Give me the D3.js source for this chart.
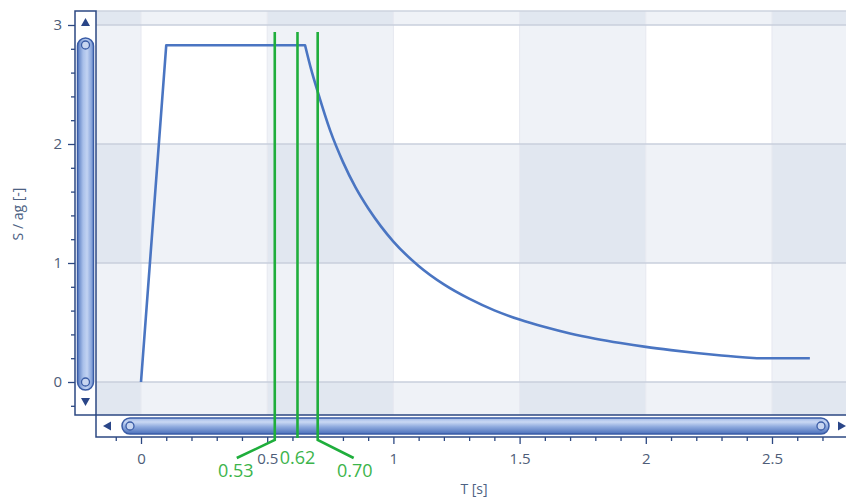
<!DOCTYPE html>
<html>
<head>
<meta charset="utf-8">
<script src="https://cdn.jsdelivr.net/npm/d3@7/dist/d3.min.js"></script>
<style>
  html, body { margin: 0; padding: 0; background: #ffffff; }
  svg { display: block; font-family: "Open Sans", "Noto Sans", sans-serif; }
</style>
</head>
<body>
<svg id="chart" width="846" height="497"></svg>
<script>
// Elastic response spectrum S/ag against period T
const periods  = [0, 0.10, 0.65, 0.675, 0.70, 0.75, 0.80, 0.85, 0.90, 0.95, 1.00, 1.10, 1.20, 1.30, 1.40, 1.50, 1.60, 1.70, 1.80, 1.90, 2.00, 2.10, 2.20, 2.30, 2.44, 2.65];
const spectrum = [0, 2.83, 2.83, 2.62, 2.44, 2.11, 1.85, 1.635, 1.46, 1.31, 1.18, 0.975, 0.82, 0.70, 0.602, 0.525, 0.462, 0.408, 0.364, 0.327, 0.295, 0.268, 0.244, 0.223, 0.20, 0.20];

// Marked periods
const markerPeriods = [0.53, 0.62, 0.70];
const markerLabels  = ["0.53", "0.62", "0.70"];

// Axis ticks
const xTickValues = [0, 0.5, 1, 1.5, 2, 2.5];
const xTickLabels = ["0", "0.5", "1", "1.5", "2", "2.5"];
const yTickValues = [0, 1, 2, 3];
const yTickLabels = ["0", "1", "2", "3"];

const svg = d3.select("#chart");

const plot = { left: 96, right: 846, top: 11, bottom: 415 };

const x = d3.scaleLinear().domain([-0.1783, 2.7932]).range([plot.left, plot.right]);
const y = d3.scaleLinear().domain([-0.2773, 3.1176]).range([plot.bottom, plot.top]);

const axisColor = "#2c4882";
const textColor = "#4e5d78";

// ---- checkered background bands ----
const defs = svg.append("defs");
defs.append("clipPath").attr("id", "plotClip")
  .append("rect")
  .attr("x", plot.left).attr("y", plot.top)
  .attr("width", plot.right - plot.left).attr("height", plot.bottom - plot.top);

const shades = ["#ffffff", "#eff2f7", "#e1e7f0"];
const bg = svg.append("g").attr("clip-path", "url(#plotClip)");
const colStarts = d3.range(-0.5, 3.0, 0.5);
const rowStarts = d3.range(-1, 4, 1);
rowStarts.forEach(r => {
  colStarts.forEach(c => {
    const ci = Math.round(c / 0.5);
    const level = (Math.abs(ci) % 2) + (Math.abs(r) % 2);
    bg.append("rect")
      .attr("x", x(c)).attr("y", y(r + 1))
      .attr("width", x(c + 0.5) - x(c))
      .attr("height", y(r) - y(r + 1))
      .attr("fill", shades[level]);
  });
});

// faint column separators
colStarts.forEach(c => {
  bg.append("line")
    .attr("x1", x(c)).attr("x2", x(c))
    .attr("y1", plot.top).attr("y2", plot.bottom)
    .attr("stroke", "#e6e8f0").attr("stroke-width", 1);
});

// horizontal grid lines
bg.selectAll("line.grid").data(yTickValues).enter().append("line")
  .attr("class", "grid")
  .attr("x1", plot.left).attr("x2", plot.right)
  .attr("y1", d => y(d)).attr("y2", d => y(d))
  .attr("stroke", "#c9cfdd").attr("stroke-width", 1.5);

// plot top border
svg.append("line")
  .attr("x1", plot.left).attr("x2", plot.right)
  .attr("y1", plot.top).attr("y2", plot.top)
  .attr("stroke", "#cdd3df").attr("stroke-width", 1.5);

// ---- spectrum line ----
// straight branches (rise, plateau, lower bound) and a smooth descending branch
const pts = periods.map((t, i) => [t, spectrum[i]]);
const iCorner = periods.indexOf(0.65);
const iFloor = periods.indexOf(2.44);
const straight = d3.line().x(d => x(d[0])).y(d => y(d[1]));
const smooth = d3.line().x(d => x(d[0])).y(d => y(d[1])).curve(d3.curveMonotoneX);
const spectrumPath = straight(pts.slice(0, iCorner + 1))
  + smooth(pts.slice(iCorner, iFloor + 1)).replace(/^M[^C]*/, "L" + x(pts[iCorner][0]) + "," + y(pts[iCorner][1]))
  + straight(pts.slice(iFloor)).replace(/^M/, "L");
svg.append("path")
  .attr("d", spectrumPath)
  .attr("fill", "none")
  .attr("stroke", "#4a75c2")
  .attr("stroke-width", 2.6)
  .attr("stroke-linejoin", "round");

// ---- vertical scrollbar (left) ----
const vsb = { x0: 75, x1: 96 };
const thumbGradV = defs.append("linearGradient").attr("id", "thumbV")
  .attr("x1", "0").attr("x2", "1").attr("y1", "0").attr("y2", "0");
thumbGradV.append("stop").attr("offset", "0").attr("stop-color", "#5579bf");
thumbGradV.append("stop").attr("offset", "0.35").attr("stop-color", "#a9c0ea");
thumbGradV.append("stop").attr("offset", "0.6").attr("stop-color", "#c2d3f2");
thumbGradV.append("stop").attr("offset", "1").attr("stop-color", "#6e90d0");

const thumbGradH = defs.append("linearGradient").attr("id", "thumbH")
  .attr("x1", "0").attr("x2", "0").attr("y1", "0").attr("y2", "1");
thumbGradH.append("stop").attr("offset", "0").attr("stop-color", "#9fb8e6");
thumbGradH.append("stop").attr("offset", "0.25").attr("stop-color", "#c9d8f4");
thumbGradH.append("stop").attr("offset", "0.55").attr("stop-color", "#8eaade");
thumbGradH.append("stop").attr("offset", "1").attr("stop-color", "#4a6fba");

svg.append("rect")
  .attr("x", vsb.x0).attr("y", plot.top)
  .attr("width", vsb.x1 - vsb.x0).attr("height", plot.bottom - plot.top)
  .attr("fill", "#ffffff").attr("stroke", axisColor).attr("stroke-width", 1.5);

// arrows
svg.append("path")
  .attr("d", d3.line()([[85.5, 18], [81, 26], [90, 26]]) + "Z")
  .attr("fill", "#2a4688");
svg.append("path")
  .attr("d", d3.line()([[81, 398], [90, 398], [85.5, 406]]) + "Z")
  .attr("fill", "#2a4688");

// thumb
svg.append("rect")
  .attr("x", 77.5).attr("y", 38).attr("width", 16).attr("height", 352)
  .attr("rx", 8).attr("ry", 8)
  .attr("fill", "url(#thumbV)").attr("stroke", "#3a5ca6").attr("stroke-width", 1.5);
[45, 382].forEach(cy => {
  svg.append("circle").attr("cx", 85.5).attr("cy", cy).attr("r", 4)
    .attr("fill", "#c8d6f1").attr("stroke", "#3a5ca6").attr("stroke-width", 1.3);
});

// ---- horizontal scrollbar (bottom) ----
const hsb = { y0: 415, y1: 437 };
svg.append("rect")
  .attr("x", plot.left).attr("y", hsb.y0)
  .attr("width", plot.right - plot.left + 5).attr("height", hsb.y1 - hsb.y0)
  .attr("fill", "#ffffff").attr("stroke", axisColor).attr("stroke-width", 1.5);
svg.append("path")
  .attr("d", d3.line()([[103, 426], [111, 421.5], [111, 430.5]]) + "Z")
  .attr("fill", "#2a4688");
svg.append("path")
  .attr("d", d3.line()([[838, 421.5], [846, 426], [838, 430.5]]) + "Z")
  .attr("fill", "#2a4688");
svg.append("rect")
  .attr("x", 122).attr("y", 418).attr("width", 707).attr("height", 16)
  .attr("rx", 8).attr("ry", 8)
  .attr("fill", "url(#thumbH)").attr("stroke", "#3a5ca6").attr("stroke-width", 1.5);
[130, 821].forEach(cx => {
  svg.append("circle").attr("cx", cx).attr("cy", 426).attr("r", 4)
    .attr("fill", "#c8d6f1").attr("stroke", "#3a5ca6").attr("stroke-width", 1.3);
});

// ---- axes ----
// y axis: ticks on the left edge of the vertical scrollbar
const yAxisG = svg.append("g").attr("transform", `translate(${vsb.x0},0)`);
const yMinor = d3.range(-0.2, 3.01, 0.2).filter(v => Math.abs(v - Math.round(v)) > 1e-6);
yAxisG.call(d3.axisLeft(y).tickValues(yMinor).tickSize(4).tickFormat(""))
  .call(g => g.select(".domain").remove())
  .call(g => g.selectAll("line").attr("stroke", axisColor).attr("stroke-width", 1.3));
const yMajorG = svg.append("g").attr("transform", `translate(${vsb.x0},0)`);
yMajorG.call(d3.axisLeft(y).tickValues(yTickValues).tickSize(7).tickPadding(6)
    .tickFormat((d, i) => yTickLabels[i]))
  .call(g => g.select(".domain").remove())
  .call(g => g.selectAll("line").attr("stroke", axisColor).attr("stroke-width", 1.3))
  .call(g => g.selectAll("text").attr("fill", textColor)
    .attr("font-size", 15).attr("font-family", "'Open Sans', 'Noto Sans', sans-serif"));

// x axis: ticks below the horizontal scrollbar
const xMinor = d3.range(-0.1, 2.71, 0.1).filter(v => Math.abs(v * 2 - Math.round(v * 2)) > 1e-6);
svg.append("g").attr("transform", `translate(0,${hsb.y1})`)
  .call(d3.axisBottom(x).tickValues(xMinor).tickSize(4).tickFormat(""))
  .call(g => g.select(".domain").remove())
  .call(g => g.selectAll("line").attr("stroke", axisColor).attr("stroke-width", 1.3));
svg.append("g").attr("transform", `translate(0,${hsb.y1})`)
  .call(d3.axisBottom(x).tickValues(xTickValues).tickSize(7).tickPadding(9)
    .tickFormat((d, i) => xTickLabels[i]))
  .call(g => g.select(".domain").remove())
  .call(g => g.selectAll("line").attr("stroke", axisColor).attr("stroke-width", 1.3))
  .call(g => g.selectAll("text").attr("fill", textColor)
    .attr("font-size", 15).attr("font-family", "'Open Sans', 'Noto Sans', sans-serif"));

// axis titles
svg.append("text")
  .attr("transform", "translate(23,214) rotate(-90)")
  .attr("text-anchor", "middle")
  .attr("fill", "#4d6283").attr("font-size", 14)
  .text("S / ag [-]");
svg.append("text")
  .attr("x", 474).attr("y", 494)
  .attr("text-anchor", "middle")
  .attr("fill", "#4d6283").attr("font-size", 14)
  .text("T [s]");

// ---- marked periods with leader lines ----
const green = "#1fae3c";
const labelGreen = "#3cb44b";
// leader offsets: left, straight down, right
const leader = [
  { dx: -38, bendY: 440, endY: 458, tx: -39, ty: 477 },
  { dx: 0, bendY: 438, endY: 438, tx: 0, ty: 464 },
  { dx: 36, bendY: 440, endY: 458, tx: 37, ty: 477 }
];
markerPeriods.forEach((p, i) => {
  const px = x(p);
  const L = leader[i];
  const path = L.dx === 0
    ? [[px, 32], [px, L.endY]]
    : [[px, 32], [px, L.bendY], [px + L.dx, L.endY]];
  svg.append("path")
    .attr("d", d3.line()(path))
    .attr("fill", "none")
    .attr("stroke", green)
    .attr("stroke-width", 2.6);
  svg.append("text")
    .attr("x", px + L.tx).attr("y", L.ty)
    .attr("text-anchor", "middle")
    .attr("fill", labelGreen)
    .attr("font-size", 18)
    .text(markerLabels[i]);
});
</script>
</body>
</html>
